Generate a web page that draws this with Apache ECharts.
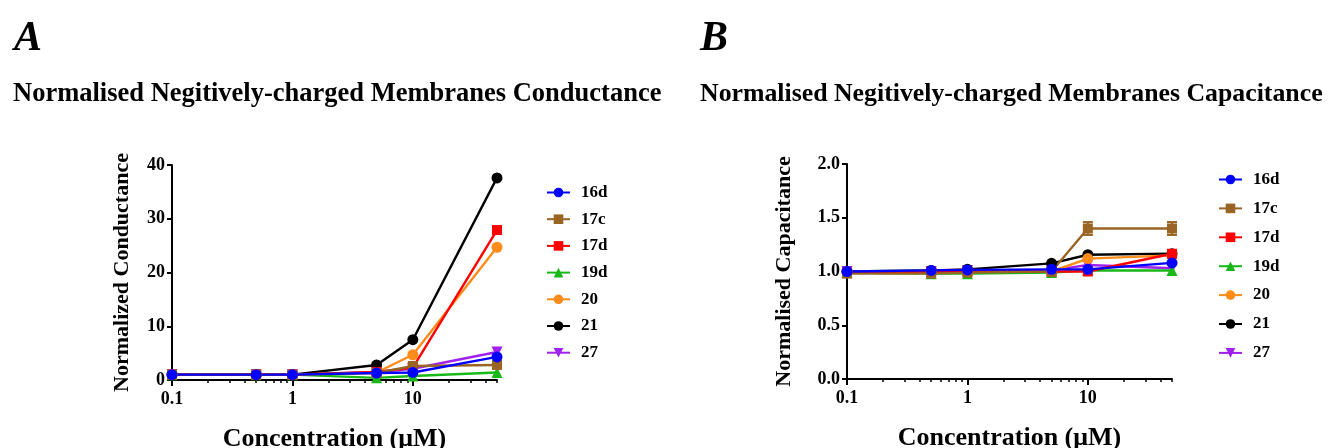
<!DOCTYPE html>
<html>
<head>
<meta charset="utf-8">
<script src="https://cdn.jsdelivr.net/npm/echarts@6/dist/echarts.min.js"></script>
<style>
  html, body { margin: 0; padding: 0; background: #fff; }
  #chart { width: 1329px; height: 448px; }
</style>
</head>
<body>
<div id="chart"></div>
<script>
// concentrations (uM)
const conc = [0.1, 0.5, 1, 5, 10, 50];
const compounds = ['16d', '17c', '17d', '19d', '20', '21', '27'];

// A: normalized conductance
const cond16d = [1.0, 1.0, 1.0, 1.3, 1.4, 4.3];
const cond17c = [1.0, 1.0, 1.0, 1.3, 2.6, 2.8];
const cond17d = [1.0, 1.0, 1.0, 1.5, 2.3, 27.9];
const cond19d = [1.0, 1.0, 1.0, 0.4, 0.75, 1.4];
const cond20 = [1.0, 1.0, 1.0, 1.4, 4.7, 24.7];
const cond21 = [1.0, 1.0, 1.0, 2.8, 7.5, 37.6];
const cond27 = [1.0, 1.0, 1.0, 1.5, 2.1, 5.2];

// B: normalised capacitance
const cap16d = [1.00, 1.01, 1.015, 1.02, 1.02, 1.08];
const cap17c = [0.98, 0.98, 0.99, 1.00, 1.40, 1.40];
const cap17d = [0.99, 1.00, 1.00, 1.00, 1.00, 1.165];
const cap19d = [0.99, 0.98, 0.98, 0.99, 1.01, 1.01];
const cap20 = [1.00, 1.00, 1.00, 1.00, 1.12, 1.15];
const cap21 = [1.00, 1.01, 1.02, 1.076, 1.156, 1.166];
const cap27 = [1.00, 1.00, 1.01, 1.01, 1.06, 1.03];
const cap17cErr = [0, 0, 0, 0, 0.06, 0.06];

// axis ticks
const majorTicks = [0.1, 1, 10];
const minorTicks = [0.2, 0.3, 0.4, 0.5, 0.6, 0.7, 0.8, 0.9, 2, 3, 4, 5, 6, 7, 8, 9, 20, 30, 40, 50];

const colors = ['#0000ff', '#9a6524', '#ff0000', '#17b817', '#ff8c1a', '#000000', '#a020f0'];
const symbols = ['circle', 'rect', 'rect', 'triangle', 'circle', 'circle', 'triangle'];
const rotations = [0, 0, 0, 0, 0, 0, 180];
const condData = [cond16d, cond17c, cond17d, cond19d, cond20, cond21, cond27];
const capData = [cap16d, cap17c, cap17d, cap19d, cap20, cap21, cap27];

const FONT = 'Liberation Serif';

function xAxes(gridIndex) {
    return [{
        type: 'log',
        gridIndex: gridIndex,
        position: 'bottom',
        min: 0.1,
        max: 50,
        name: 'Concentration (\u03bcM)',
        nameLocation: 'middle',
        nameGap: 46,
        nameTextStyle: { fontFamily: FONT, fontWeight: 'bold', fontSize: 26, color: '#000' },
        axisLine: { lineStyle: { color: '#000', width: 2 } },
        axisTick: { length: 6, lineStyle: { width: 2 }, customValues: majorTicks },
        axisLabel: {
            customValues: majorTicks,
            fontFamily: FONT, fontWeight: 'bold', fontSize: 18, color: '#000', margin: 10,
            formatter: v => String(v)
        },
        splitLine: { show: false }
    }, {
        type: 'log',
        gridIndex: gridIndex,
        position: 'bottom',
        min: 0.1,
        max: 50,
        axisLine: { show: false },
        axisTick: { length: 3, lineStyle: { width: 1.5, color: '#000' }, customValues: minorTicks },
        axisLabel: { show: false },
        splitLine: { show: false }
    }];
}

function yAxis(gridIndex, name, max, interval, fmt, gap) {
    return {
        type: 'value',
        gridIndex: gridIndex,
        min: 0,
        max: max,
        interval: interval,
        name: name,
        nameLocation: 'middle',
        nameGap: gap,
        nameTextStyle: { fontFamily: FONT, fontWeight: 'bold', fontSize: 22, color: '#000' },
        axisLine: { show: true, lineStyle: { color: '#000', width: 2 } },
        axisTick: { show: true, length: 5, lineStyle: { width: 2 } },
        axisLabel: { fontFamily: FONT, fontWeight: 'bold', fontSize: 18, color: '#000', margin: 7, formatter: fmt },
        splitLine: { show: false }
    };
}

function lineSeries(data, xIdx, yIdx) {
    const out = [];
    // reversed so that 16d ends up drawn on top
    for (let i = compounds.length - 1; i >= 0; i--) {
        out.push({
            name: compounds[i],
            type: 'line',
            xAxisIndex: xIdx,
            yAxisIndex: yIdx,
            data: conc.map((c, j) => [c, data[i][j]]),
            symbol: symbols[i],
            symbolRotate: rotations[i],
            symbolSize: symbols[i] === 'rect' ? 10 : 11,
            showSymbol: true,
            color: colors[i],
            lineStyle: { width: 2.4 },
            animation: false
        });
    }
    return out;
}

function legend(left, top, gap) {
    return {
        orient: 'vertical',
        left: left,
        top: top,
        itemWidth: 23,
        itemHeight: 12,
        itemGap: gap,
        data: compounds,
        textStyle: { fontFamily: FONT, fontWeight: 'bold', fontSize: 17, color: '#000', padding: [0, 0, 0, 6] }
    };
}

const leftLegend = legend(541, 179, 9.7);
const rightLegend = legend(1213, 166, 11.9);

// error bars for 17c in panel B
const errSeries = {
    type: 'custom',
    xAxisIndex: 2,
    yAxisIndex: 1,
    z: 1,
    data: conc.map((c, j) => [c, cap17c[j], cap17cErr[j]]).filter(d => d[2] > 0),
    renderItem: function (params, api) {
        const x = api.value(0), y = api.value(1), e = api.value(2);
        const hi = api.coord([x, y + e]);
        const lo = api.coord([x, y - e]);
        const style = { stroke: colors[1], lineWidth: 2 };
        return {
            type: 'group',
            children: [
                { type: 'line', shape: { x1: hi[0], y1: hi[1], x2: lo[0], y2: lo[1] }, style: style },
                { type: 'line', shape: { x1: hi[0] - 5, y1: hi[1], x2: hi[0] + 5, y2: hi[1] }, style: style },
                { type: 'line', shape: { x1: lo[0] - 5, y1: lo[1], x2: lo[0] + 5, y2: lo[1] }, style: style }
            ]
        };
    },
    animation: false
};

const chart = echarts.init(document.getElementById('chart'));
chart.setOption({
    backgroundColor: '#fff',
    animation: false,
    title: [
        { text: 'A', left: 9, top: 13, textStyle: { fontFamily: FONT, fontStyle: 'italic', fontWeight: 'bold', fontSize: 42, color: '#000' } },
        { text: 'B', left: 695, top: 13, textStyle: { fontFamily: FONT, fontStyle: 'italic', fontWeight: 'bold', fontSize: 42, color: '#000' } },
        { text: 'Normalised Negitively-charged Membranes Conductance', left: 8, top: 76, textStyle: { fontFamily: FONT, fontWeight: 'bold', fontSize: 26.5, color: '#000' } },
        { text: 'Normalised Negitively-charged Membranes Capacitance', left: 695, top: 76, textStyle: { fontFamily: FONT, fontWeight: 'bold', fontSize: 25.8, color: '#000' } }
    ],
    legend: [leftLegend, rightLegend],
    grid: [
        { left: 172, top: 165, width: 325, height: 215, containLabel: false, outerBoundsMode: 'none' },
        { left: 847, top: 164, width: 325, height: 215, containLabel: false, outerBoundsMode: 'none' }
    ],
    xAxis: xAxes(0).concat(xAxes(1)),
    yAxis: [
        yAxis(0, 'Normalized Conductance', 40, 10, v => String(v), 39),
        yAxis(1, 'Normalised Capacitance', 2, 0.5, v => v.toFixed(1), 52)
    ],
    series: lineSeries(condData, 0, 0).concat(lineSeries(capData, 2, 1), [errSeries])
});
</script>
</body>
</html>
